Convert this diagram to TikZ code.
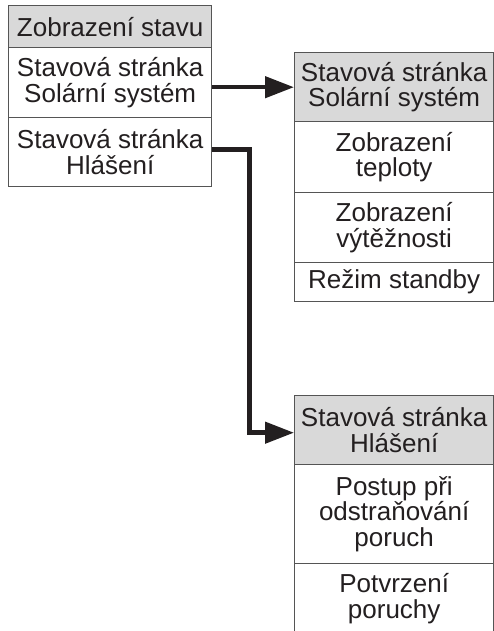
\documentclass[tikz,border=0pt]{standalone}
\usepackage{fontspec}
\setmainfont{Liberation Sans}
\usetikzlibrary{arrows.meta}
\definecolor{txt}{HTML}{231F20}
\definecolor{hdr}{HTML}{D9D9D9}
\definecolor{brd}{HTML}{555555}
\tikzset{
  cell/.style={draw=brd, line width=1.4pt, fill=white, text=txt, inner sep=0pt, anchor=north west, align=center,
    font=\fontsize{26}{25.5}\selectfont},
  hcell/.style={cell, fill=hdr},
  conn/.style={draw=txt, line width=4.5pt, -{Triangle[length=29pt,width=21pt]}}
}
\begin{document}
\begin{tikzpicture}[x=1pt,y=-1pt]
\useasboundingbox (0,0) rectangle (494,631);
% left box
\node[hcell, minimum width=203pt, minimum height=42pt] (l1) at (8,5) {Zobrazení stavu};
\node[cell, minimum width=203pt, minimum height=70pt] (l2) at (8,47) {Stavová stránka\\Solární systém};
\node[cell, minimum width=203pt, minimum height=69pt] (l3) at (8,117) {Stavová stránka\\Hlášení};
% right box 1
\node[hcell, minimum width=199pt, minimum height=69pt] (a1) at (294,52) {Stavová stránka\\Solární systém};
\node[cell, minimum width=199pt, minimum height=71pt] (a2) at (294,121) {Zobrazení\\teploty};
\node[cell, minimum width=199pt, minimum height=70pt] (a3) at (294,192) {Zobrazení\\výtěžnosti};
\node[cell, minimum width=199pt, minimum height=39pt] (a4) at (294,262) {Režim standby};
% right box 2
\node[hcell, minimum width=199pt, minimum height=69pt] (b1) at (294,395) {Stavová stránka\\Hlášení};
\node[cell, minimum width=199pt, minimum height=99pt] (b2) at (294,464) {Postup při\\odstraňování\\poruch};
\node[cell, minimum width=199pt, minimum height=70pt] (b3) at (294,563) {Potvrzení\\poruchy};
% connectors
\draw[conn] (a1.west -| l2.east) -- (a1.west);
\draw[conn] ([yshift=2.5pt]l3.east) -- ++(37,0) |- ([yshift=-2.5pt]b1.west);
\end{tikzpicture}
\end{document}
